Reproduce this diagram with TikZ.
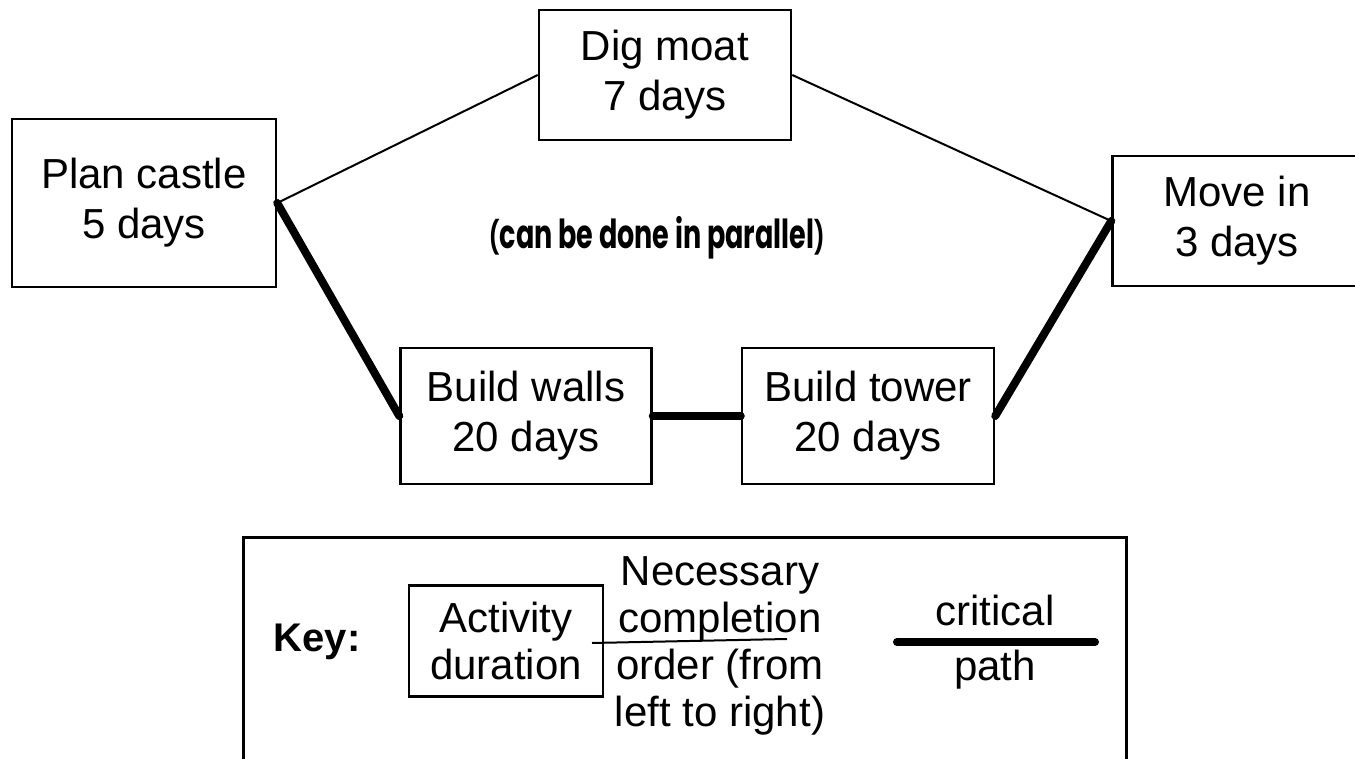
\documentclass[tikz,border=0pt]{standalone}
\usepackage{fontspec}
\setmainfont{Liberation Sans}
\newfontfamily\handfont{Poppins}
\begin{document}
\begin{tikzpicture}[
  x=1pt, y=-1pt,
  act/.style={
    draw, line width=2.5pt, align=center,
    inner sep=0pt, font=\fontsize{42}{50}\selectfont
  },
  keytxt/.style={
    align=center, inner sep=0pt,
    font=\fontsize{42}{47}\selectfont
  },
  link/.style={line width=2pt},
  crit/.style={line width=8pt, line cap=round}
]
  \useasboundingbox (0,0) rectangle (1355,759);
  \clip (0,0) rectangle (1355,759);
  \node[act, minimum width=264pt, minimum height=168pt] (plan) at (144,203){Plan castle\\5 days};
  \node[act, minimum width=252pt, minimum height=130pt] (moat) at (665,75){Dig moat\\7 days};
  \node[act, minimum width=249pt, minimum height=130pt] (move) at (1237,221){Move in\\3 days};
  \node[act, minimum width=251pt, minimum height=136pt] (walls) at (526,416){Build walls\\20 days};
  \node[act, minimum width=252pt, minimum height=136pt] (tower) at (868,416){Build tower\\20 days};
  \draw[link] (plan.east)--(moat.west);
  \draw[link] (moat.east)--(move.west);
  \draw[crit] (plan.east)--(walls.west);
  \draw[crit] (walls.east)--(tower.west);
  \draw[crit] (tower.east)--(move.west);
  \node[inner sep=0pt] (par) at (657,238){\resizebox{335pt}{\height}{\handfont\bfseries
    {\fontsize{32}{34}\selectfont(}\fontsize{40}{42}\selectfont can be done in parallel{\fontsize{32}{34}\selectfont)}}};
  % key
  \draw[line width=3pt] (243,780) rectangle (1126,537);
  \node[keytxt, font=\fontsize{40}{47}\selectfont\bfseries] (key) at (317,642){Key:};
  \node[act, font=\fontsize{42}{47}\selectfont, minimum width=194pt, minimum height=111pt] (actbox) at (506,641){Activity\\duration};
  \coordinate (ordA) at (592,643);
  \coordinate (ordB) at (787,639);
  \draw[link] (ordA)--(ordB);
  \node[keytxt] (order) at (720,646){Necessary\\completion\\order (from\\left to right)};
  \coordinate (critA) at (897,642);
  \coordinate (critB) at (1095,642);
  \draw[crit] (critA)--(critB);
  \node[keytxt, above] (crittop) at (995,626){critical};
  \node[keytxt, below] (critbot) at (995,650){path};
\end{tikzpicture}
\end{document}
